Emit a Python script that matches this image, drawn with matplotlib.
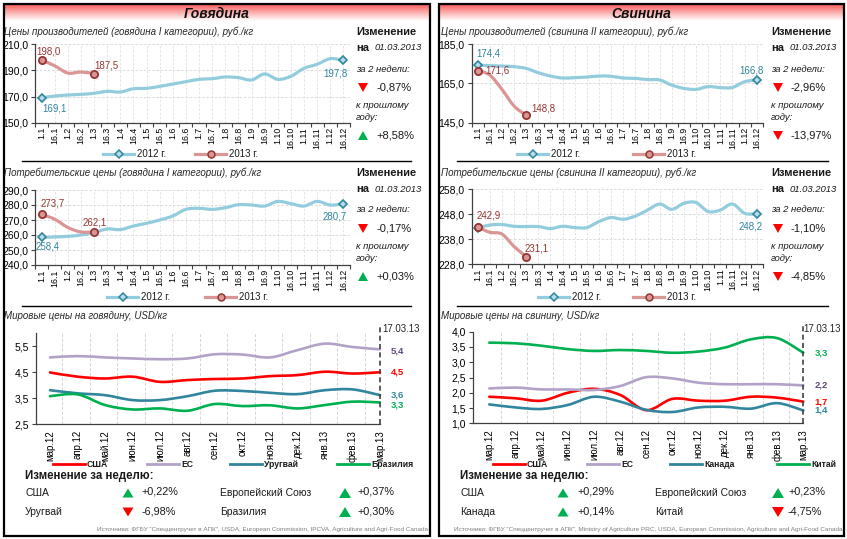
import matplotlib
matplotlib.use('Agg')
import matplotlib.pyplot as plt
import numpy as np
from matplotlib.path import Path
from matplotlib.patches import PathPatch, Rectangle, Polygon
from matplotlib.lines import Line2D

plt.rcParams['font.family'] = ['Liberation Sans', 'DejaVu Sans']

W, H = 847, 539

# ---------------- data ----------------
half_month_labels = ['1.1', '16.1', '1.2', '16.2', '1.3', '16.3', '1.4', '16.4', '1.5', '16.5',
                     '1.6', '16.6', '1.7', '16.7', '1.8', '16.8', '1.9', '16.9', '1.10', '16.10',
                     '1.11', '16.11', '1.12', '16.12']
months = ['мар.12', 'апр.12', 'май.12', 'июн.12', 'июл.12', 'авг.12', 'сен.12', 'окт.12',
          'ноя.12', 'дек.12', 'янв.13', 'фев.13', 'мар.13']
series_years = ['2012 г.', '2013 г.']

beef_prod_2012 = [169.1, 170.4, 171.2, 171.7, 172.5, 174.0, 173.5, 176.0, 176.3, 177.8, 179.6, 181.4,
                  183.2, 183.7, 185.0, 184.5, 182.7, 187.3, 183.2, 185.5, 191.6, 194.7, 199.0, 197.8]
beef_prod_2013 = [198.0, 193.5, 188.0, 188.8, 187.5]
beef_cons_2012 = [258.4, 258.7, 259.1, 260.0, 261.6, 264.0, 263.6, 266.0, 267.8, 270.0, 272.7, 277.1,
                  277.8, 277.1, 278.2, 280.2, 280.0, 279.3, 282.4, 280.9, 279.3, 282.4, 280.0, 280.7]
beef_cons_2013 = [273.7, 270.5, 265.0, 262.0, 262.1]
pork_prod_2012 = [174.4, 174.1, 173.9, 173.6, 172.7, 170.5, 168.8, 167.8, 168.0, 168.3, 168.8, 168.7,
                  167.8, 167.6, 167.0, 166.8, 164.2, 162.5, 162.0, 163.4, 162.9, 163.0, 165.9, 166.8]
pork_prod_2013 = [171.6, 169.3, 162.0, 153.5, 148.8]
pork_cons_2012 = [242.6, 243.7, 243.9, 243.2, 243.1, 243.1, 242.3, 243.2, 242.7, 242.7, 245.1, 246.7,
                  246.0, 247.3, 249.7, 252.1, 250.0, 252.4, 252.7, 249.1, 249.7, 252.1, 248.4, 248.2]
pork_cons_2013 = [242.9, 240.8, 240.1, 235.1, 231.1]

beef_world_names = ['США', 'ЕС', 'Уругвай', 'Бразилия']
beef_usa = [4.49, 4.33, 4.26, 4.33, 4.13, 4.20, 4.24, 4.26, 4.35, 4.39, 4.52, 4.45, 4.50]
beef_eu = [5.07, 5.12, 5.07, 5.03, 5.00, 5.03, 5.19, 5.18, 5.07, 5.35, 5.60, 5.47, 5.38]
beef_uru = [3.81, 3.69, 3.62, 3.43, 3.43, 3.58, 3.79, 3.78, 3.71, 3.66, 3.81, 3.84, 3.62]
beef_bra = [3.58, 3.65, 3.24, 3.07, 3.11, 3.02, 3.28, 3.20, 3.23, 3.11, 3.24, 3.37, 3.34]

pork_world_names = ['США', 'ЕС', 'Канада', 'Китай']
pork_usa = [1.87, 1.82, 1.74, 2.00, 2.13, 1.93, 1.43, 1.80, 1.74, 1.74, 1.87, 1.84, 1.71]
pork_eu = [2.14, 2.17, 2.11, 2.11, 2.09, 2.22, 2.51, 2.47, 2.33, 2.28, 2.28, 2.28, 2.24]
pork_can = [1.62, 1.52, 1.47, 1.60, 1.87, 1.71, 1.44, 1.37, 1.52, 1.54, 1.48, 1.66, 1.42]
pork_chn = [3.64, 3.62, 3.54, 3.43, 3.37, 3.40, 3.37, 3.31, 3.35, 3.48, 3.75, 3.79, 3.31]

beef_changes = [('за 2 недели:', '-0,87%', False), ('к прошлому\nгоду:', '+8,58%', True)]
beef_cons_changes = [('за 2 недели:', '-0,17%', False), ('к прошлому\nгоду:', '+0,03%', True)]
pork_changes = [('за 2 недели:', '-2,96%', False), ('к прошлому\nгоду:', '-13,97%', False)]
pork_cons_changes = [('за 2 недели:', '-1,10%', False), ('к прошлому\nгоду:', '-4,85%', False)]

beef_week = [('США', '+0,22%', True), ('Европейский Союз', '+0,37%', True),
             ('Уругвай', '-6,98%', False), ('Бразилия', '+0,30%', True)]
pork_week = [('США', '+0,29%', True), ('Европейский Союз', '+0,23%', True),
             ('Канада', '+0,14%', True), ('Китай', '-4,75%', False)]

# ---------------- styles ----------------
C12 = '#93CDDD'
C12D = '#31859C'
C13 = '#D99694'
C13D = '#953735'
CUS = '#FF0000'
CEU = '#B3A2C7'
CEUD = '#5F497A'
CTEAL = '#31859C'
CGRN = '#00B050'
GRID = '#D4D4D4'

fig = plt.figure(figsize=(W / 100, H / 100), dpi=100)
fig.patch.set_facecolor('white')
ov = fig.add_axes([0, 0, 1, 1], zorder=0)
ov.set_xlim(0, W)
ov.set_ylim(H, 0)
ov.axis('off')


def add_ax(x0, y0, x1, y1):
    ax = fig.add_axes([x0 / W, 1 - y1 / H, (x1 - x0) / W, (y1 - y0) / H], zorder=1)
    ax.patch.set_alpha(0)
    return ax


def T(x, y, s, **kw):
    kw.setdefault('va', 'center')
    kw.setdefault('color', '#1A1A1A')
    return fig.text(x / W, 1 - y / H, s, **kw)


def smooth_path(xs, ys):
    xs = np.asarray(xs, float)
    ys = np.asarray(ys, float)
    n = len(xs)
    verts = [(xs[0], ys[0])]
    codes = [Path.MOVETO]
    for i in range(n - 1):
        p0 = np.array([xs[max(i - 1, 0)], ys[max(i - 1, 0)]])
        p1 = np.array([xs[i], ys[i]])
        p2 = np.array([xs[i + 1], ys[i + 1]])
        p3 = np.array([xs[min(i + 2, n - 1)], ys[min(i + 2, n - 1)]])
        c1 = p1 + (p2 - p0) / 6.0
        c2 = p2 - (p3 - p1) / 6.0
        verts += [tuple(c1), tuple(c2), tuple(p2)]
        codes += [Path.CURVE4] * 3
    return Path(verts, codes)


def tri(cx, cy, up, w=10, h=9):
    if up:
        pts = [(cx - w / 2, cy + h / 2), (cx + w / 2, cy + h / 2), (cx, cy - h / 2)]
        c = CGRN
    else:
        pts = [(cx - w / 2, cy - h / 2), (cx + w / 2, cy - h / 2), (cx, cy + h / 2)]
        c = CUS
    ov.add_patch(Polygon(pts, closed=True, fc=c, ec='none'))


def fmt(v, d):
    return f'{v:.{d}f}'.replace('.', ',')


def px2pt(v):
    return v * 72.0 / 100.0


# ---------------- panels / headers ----------------
def header(x0, x1, y0, y1, title):
    n = 64
    t = np.linspace(0, 1, n)[:, None]
    top = np.array([0.97, 0.33, 0.33])
    bot = np.array([1.0, 1.0, 1.0])
    rgb = top[None, None, :] * (1 - t[..., None] ** 0.9) + bot[None, None, :] * (t[..., None] ** 0.9)
    ov.imshow(rgb, extent=(x0, x1, y1, y0), aspect='auto', origin='upper', interpolation='bilinear', zorder=0)
    T((x0 + x1) / 2, (y0 + y1) / 2 + 1, title, ha='center', fontsize=10, fontweight='bold',
      fontstyle='italic', color='#111111')


header(4, 429, 4, 21, 'Говядина')
header(439, 843, 4, 21, 'Свинина')
ov.set_xlim(0, W)
ov.set_ylim(H, 0)
ov.add_patch(Rectangle((3.5, 3.5), 426.5, 532.5, fill=False, ec='black', lw=1.6, zorder=5))
ov.add_patch(Rectangle((438.5, 3.5), 405, 532.5, fill=False, ec='black', lw=1.6, zorder=5))
for (xa, xb) in [(22, 411), (457, 828)]:
    for yy in (161, 306):
        ov.plot([xa, xb], [yy, yy], color='black', lw=1.0, zorder=5)


# ---------------- half-month charts ----------------
def period_chart(x0, x1, y0, y1, ylim, yticks, s12, s13, labels, title, title_x, title_y):
    ax = add_ax(x0, y0, x1, y1)
    n = len(half_month_labels)
    xs = np.arange(n)
    ax.set_xlim(-0.5, n - 0.5)
    ax.set_ylim(*ylim)
    for t in yticks[1:]:
        ax.axhline(t, color=GRID, lw=0.6, ls=(0, (3, 2)), zorder=0)
    for i in range(1, n):
        ax.axvline(i, color='#E0E0E0', lw=0.6, ls=(0, (3, 2)), zorder=0)
    ax.add_patch(PathPatch(smooth_path(xs, s12), fill=False, ec=C12, lw=2.3, zorder=2,
                           capstyle='round', joinstyle='round'))
    x13 = xs[:len(s13)]
    ax.add_patch(PathPatch(smooth_path(x13, s13), fill=False, ec=C13, lw=2.3, zorder=3,
                           capstyle='round', joinstyle='round'))
    ax.plot([xs[0], xs[-1]], [s12[0], s12[-1]], ls='none', marker='D', ms=4.2, mfc='#B7DEE8',
            mec=C12D, mew=1.2, zorder=4, clip_on=False)
    ax.plot([x13[0], x13[-1]], [s13[0], s13[-1]], ls='none', marker='o', ms=5.2, mfc='#D99694',
            mec=C13D, mew=1.3, zorder=5, clip_on=False)
    for (which, idx, dx, dy) in labels:
        s = s12 if which == 12 else s13
        c = C12D if which == 12 else C13D
        ax.annotate(fmt(s[idx], 1), (xs[idx], s[idx]), xytext=(px2pt(dx), px2pt(dy)),
                    textcoords='offset points', ha='center', va='center', fontsize=7, color=c, zorder=6)
    ax.set_xticks(xs)
    ax.set_xticklabels(half_month_labels, rotation=90, fontsize=6.3)
    ax.set_xticks(np.arange(-0.5, n, 1.0), minor=True)
    ax.tick_params(axis='x', which='major', length=0, pad=3)
    ax.tick_params(axis='x', which='minor', length=3, width=0.8, color='#404040')
    ax.set_yticks(yticks)
    ax.set_yticklabels([fmt(t, 1) for t in yticks], fontsize=7.5)
    ax.tick_params(axis='y', length=3, width=0.8, pad=2, color='#404040')
    for sp in ('top', 'right'):
        ax.spines[sp].set_visible(False)
    for sp in ('left', 'bottom'):
        ax.spines[sp].set_color('#404040')
        ax.spines[sp].set_linewidth(0.9)
    T(title_x, title_y, title, fontsize=7, fontstyle='italic', color='#262626')
    return ax


def year_legend(y, xa, xb):
    for (x, c, mc, me, mk, ms, lab) in [(xa, C12, '#B7DEE8', C12D, 'D', 4.2, series_years[0]),
                                        (xb, C13, '#D99694', C13D, 'o', 5.0, series_years[1])]:
        ov.add_line(Line2D([x, x + 31], [y, y], color=c, lw=2.3, zorder=5))
        ov.add_line(Line2D([x + 15.5], [y], ls='none', marker=mk, ms=ms, mfc=mc, mec=me, mew=1.1, zorder=6))
        T(x + 34, y, lab, fontsize=7, color='#1A1A1A')


def info_col(x, y0, changes, xv):
    T(x, y0, 'Изменение', fontsize=8, fontweight='bold')
    T(x, y0 + 16, 'на', fontsize=8, fontweight='bold')
    T(x + 19, y0 + 16, '01.03.2013', fontsize=6.8, fontstyle='italic')
    (l1, v1, u1), (l2, v2, u2) = changes
    T(x, y0 + 37, l1, fontsize=6.8, fontstyle='italic')
    tri(x + 7, y0 + 55.5, u1)
    T(xv, y0 + 55.5, v1, fontsize=8)
    T(x, y0 + 79.5, l2, fontsize=6.8, fontstyle='italic', linespacing=1.45)
    tri(x + 7, y0 + 103.5, u2)
    T(xv, y0 + 103.5, v2, fontsize=8)


# beef producer
period_chart(35.1, 349.9, 44.3, 122.7, (150, 210), [150, 170, 190, 210],
             beef_prod_2012, beef_prod_2013,
             [(13, 0, 7, 8), (13, 4, 12, 8), (12, 0, 13, -11), (12, 23, -8, -13)],
             'Цены производителей (говядина I категории), руб./кг', 4, 32)
year_legend(154, 103, 195)
info_col(356, 32, beef_changes, 376)

# beef consumer
period_chart(35.1, 349.9, 190, 265, (240, 290), [240, 250, 260, 270, 280, 290],
             beef_cons_2012, beef_cons_2013,
             [(13, 0, 11, 10.5), (13, 4, 1, 9), (12, 0, 6, -9), (12, 23, -9, -13)],
             'Потребительские цены (говядина I категории), руб./кг', 4, 173)
year_legend(297, 107, 205)
info_col(356, 173, beef_cons_changes, 376)

# pork producer
period_chart(471.6, 762.8, 44.3, 122.7, (145, 185), [145, 165, 185],
             pork_prod_2012, pork_prod_2013,
             [(12, 0, 11, 12), (13, 0, 20, 0), (13, 4, 17, 7), (12, 23, -5, 9)],
             'Цены производителей (свинина II категории), руб./кг', 441, 32)
year_legend(154, 517, 633)
info_col(771, 32, pork_changes, 790)

# pork consumer
period_chart(471.6, 762.8, 189.3, 264.3, (228, 258), [228, 238, 248, 258],
             pork_cons_2012, pork_cons_2013,
             [(13, 0, 11, 12), (13, 4, 10, 8.5), (12, 23, -6, -13)],
             'Потребительские цены (свинина II категории), руб./кг', 441, 173)
year_legend(297, 538, 633)
info_col(771, 173, pork_cons_changes, 790)


# ---------------- world charts ----------------
def world_chart(x0, x1, y0, y1, xmin, ylim, yticks, series, colors, lab_colors, lab_dy,
                names, title, tx, ty, legend_x, date_x):
    ax = add_ax(x0, y0, x1, y1)
    n = len(months)
    xs = np.arange(n)
    ax.set_xlim(xmin, n - 1)
    ax.set_ylim(*ylim)
    for k in range(n - 1):
        ax.axvline(k + 0.45, color=GRID, lw=0.7, ls=(0, (3, 2)), zorder=0)
    for s, c in zip(series, colors):
        ax.add_patch(PathPatch(smooth_path(xs, s), fill=False, ec=c, lw=1.9, zorder=2,
                               capstyle='round', joinstyle='round', clip_on=False))
    yr = ylim[1] - ylim[0]
    ax.plot([xs[-1], xs[-1]], [ylim[0], ylim[1] + yr * 0.07], color='#404040', lw=1.2,
            ls=(0, (3, 2)), clip_on=False, zorder=3)
    for s, c, dy in zip(series, lab_colors, lab_dy):
        ax.annotate(fmt(s[-1], 1), (xs[-1], s[-1]), xytext=(px2pt(11), px2pt(dy)),
                    textcoords='offset points', ha='left', va='center', fontsize=6.8,
                    fontweight='bold', color=c)
    ax.set_xticks(xs)
    ax.set_xticklabels(months, rotation=90, fontsize=7)
    ax.tick_params(axis='x', length=0, pad=4)
    ax.set_yticks(yticks)
    ax.set_yticklabels([fmt(t, 1) for t in yticks], fontsize=7.5)
    ax.tick_params(axis='y', length=3, width=0.8, pad=2, color='#404040')
    for sp in ('top', 'right'):
        ax.spines[sp].set_visible(False)
    for sp in ('left', 'bottom'):
        ax.spines[sp].set_color('#404040')
        ax.spines[sp].set_linewidth(0.9)
    T(tx, ty, title, fontsize=7, fontstyle='italic', color='#262626')
    T(date_x, 329, '17.03.13', fontsize=7, color='#262626')
    for lx, c, nm in zip(legend_x, colors, names):
        ov.add_line(Line2D([lx, lx + 32], [464, 464], color=c, lw=2.0, zorder=5))
        T(lx + 34, 464.5, nm, fontsize=6.2, fontweight='bold', color='#1A1A1A')
    return ax


def week_block(x, rows, tri_x, val_x, x2, tri_x2, val_x2):
    T(x, 475.5, 'Изменение за неделю:', fontsize=8.3, fontweight='bold')
    ys = [493, 512]
    for i, (nm, v, up) in enumerate(rows):
        r, c = divmod(i, 2)
        if c == 0:
            T(x, ys[r], nm, fontsize=7.5)
            tri(tri_x, ys[r], up, w=11, h=9)
            T(val_x, ys[r] - 1, v, fontsize=7.8)
        else:
            T(x2, ys[r], nm, fontsize=7.5)
            tri(tri_x2, ys[r], up, w=12, h=10)
            T(val_x2, ys[r] - 1, v, fontsize=7.8)


world_chart(36.25, 380, 333.2, 424.3, -0.5, (2.5, 6.0), [2.5, 3.5, 4.5, 5.5],
            [beef_usa, beef_eu, beef_uru, beef_bra], [CUS, CEU, CTEAL, CGRN],
            [CUS, CEUD, CTEAL, CGRN], [0, -2, 0, -3], beef_world_names,
            'Мировые цены на говядину, USD/кг', 4, 316, [53, 147, 230, 337], 382.5)
week_block(25, beef_week, 128, 142, 220, 345, 357)
T(428, 529.5, 'Источники: ФГБУ "Спеццентручет в АПК", USDA, European Commission, IPCVA, '
               'Agriculture and Agri-Food Canada', fontsize=4.6, ha='right', color='#7F7F7F')

world_chart(472.8, 803.3, 331.7, 423.3, -0.63, (1.0, 4.0), [1.0, 1.5, 2.0, 2.5, 3.0, 3.5, 4.0],
            [pork_usa, pork_eu, pork_can, pork_chn], [CUS, CEU, CTEAL, CGRN],
            [CUS, CEUD, CTEAL, CGRN], [0, 0, 0, 0], pork_world_names,
            'Мировые цены на свинину, USD/кг', 441, 316, [493, 587, 670, 777], 803)
week_block(460, pork_week, 563, 577, 655, 778, 788)
T(842, 529.5, 'Источники: ФГБУ "Спеццентручет в АПК", Ministry of Agriculture PRC, USDA, '
               'European Commission, Agriculture and Agri-Food Canada', fontsize=4.6, ha='right',
  color='#7F7F7F')

fig.savefig('out.png', dpi=100, facecolor='white')
